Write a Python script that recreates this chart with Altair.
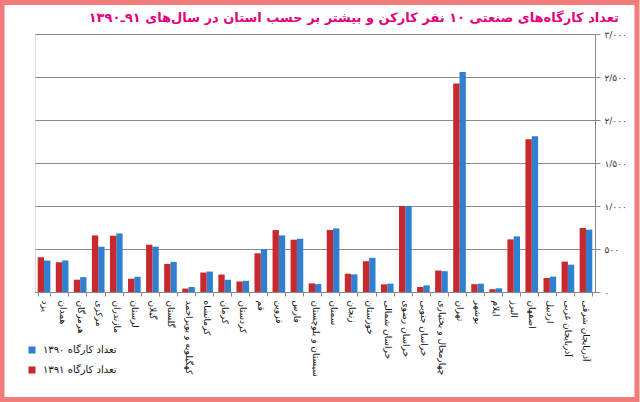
import altair as alt
import pandas as pd

provinces = ["یزد", "همدان", "هرمزگان", "مرکزی", "مازندران", "لرستان", "گیلان", "گلستان",
             "کهگیلویه و بویراحمد", "کرمانشاه", "کرمان", "کردستان", "قم", "قزوین", "فارس",
             "سیستان و بلوچستان", "سمنان", "زنجان", "خوزستان", "خراسان شمالی", "خراسان رضوی",
             "خراسان جنوبی", "چهارمحال و بختیاری", "تهران", "بوشهر", "ایلام", "البرز", "اصفهان",
             "اردبیل", "آذربایجان غربی", "آذربایجان شرقی"]
values_1390 = [366, 366, 173, 527, 681, 177, 527, 350, 58, 238, 142, 130, 500, 658, 619,
               92, 739, 205, 397, 97, 1000, 77, 242, 2558, 97, 43, 647, 1810, 179, 318, 725]
values_1391 = [404, 346, 143, 658, 654, 154, 550, 327, 40, 226, 203, 122, 450, 720, 608,
               100, 721, 212, 358, 89, 1000, 58, 250, 2423, 91, 33, 612, 1775, 162, 353, 744]
series_names = ["تعداد کارگاه ۱۳۹۰", "تعداد کارگاه ۱۳۹۱"]
series_colors = ["#2f80d1", "#c62a2f"]
y_ticks = [0, 500, 1000, 1500, 2000, 2500, 3000]
y_tick_labels = ["۰", "۵۰۰", "۱/۰۰۰", "۱/۵۰۰", "۲/۰۰۰", "۲/۵۰۰", "۳/۰۰۰"]
title_text = "تعداد کارگاه‌های صنعتی ۱۰ نفر کارکن و بیشتر بر حسب استان در سال‌های ۹۱ـ۱۳۹۰"

rows = []
for p, a, b in zip(provinces, values_1390, values_1391):
    rows.append({"province": p, "series": series_names[0], "value": a})
    rows.append({"province": p, "series": series_names[1], "value": b})
df = pd.DataFrame(rows)

label_expr = " : ".join(f"datum.value == {v} ? '{t}'" for v, t in zip(y_ticks, y_tick_labels)) + " : ''"

bars = alt.Chart(df).mark_bar(strokeWidth=0).encode(
    x=alt.X("province:N", sort=provinces,
            scale=alt.Scale(paddingInner=0.3, paddingOuter=0.15),
            axis=alt.Axis(title=None, labelAngle=90, labelAlign="left", labelBaseline="middle",
                          labelFont="DejaVu Sans", labelFontSize=9, labelColor="#111",
                          labelPadding=4, tickBand="extent", tickSize=4, tickColor="#888",
                          domainColor="#888", labelLimit=200)),
    xOffset=alt.XOffset("series:N", sort=[series_names[1], series_names[0]],
                        scale=alt.Scale(paddingInner=0, paddingOuter=0)),
    y=alt.Y("value:Q", scale=alt.Scale(domain=[0, 3000], nice=False),
            axis=alt.Axis(orient="right", values=y_ticks, labelExpr=label_expr, title=None,
                          labelFont="DejaVu Sans", labelFontSize=9, labelColor="#333",
                          gridColor="#8a8a8a", gridWidth=1.2, domainColor="#8a8a8a",
                          tickColor="#8a8a8a", tickSize=5, labelPadding=4, labelOverlap=False)),
    color=alt.Color("series:N", scale=alt.Scale(domain=series_names, range=series_colors),
                    legend=alt.Legend(orient="none", legendX=-8, legendY=311, title=None,
                                      symbolType="square", symbolSize=50, symbolStrokeWidth=0,
                                      labelFont="DejaVu Sans", labelFontSize=10, labelColor="#111",
                                      rowPadding=10, padding=0, labelOffset=6)),
)

frame = alt.Chart(pd.DataFrame({"a": [0]})).mark_rect(
    fill=None, stroke="#f27b7b", strokeWidth=5
).encode(x=alt.value(-33), x2=alt.value(602), y=alt.value(-31.5), y2=alt.value(365.5))

chart = alt.layer(bars, frame).properties(
    width=560, height=258,
    autosize=alt.AutoSizeParams(type="none"),
    padding={"left": 35, "top": 34, "right": 45, "bottom": 110},
    title=alt.TitleParams(title_text, anchor="end", frame="group", color="#e4007c", fontSize=13,
                          font="DejaVu Sans", fontWeight="bold", offset=0, dy=25, dx=24),
).configure_view(stroke=None).configure(background="white")

chart.save("out.html", embed_options={"renderer": "svg", "actions": False})
